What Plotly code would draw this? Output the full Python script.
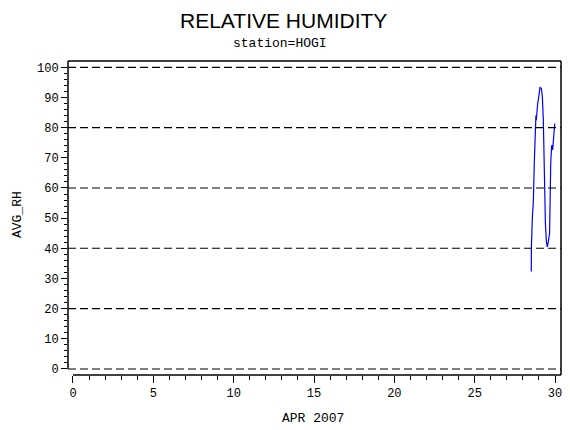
"""
Relative humidity plot for station HOGI, April 2007.
"""
import plotly.graph_objects as go

# day of month (April 2007) and average relative humidity
day = [28.52, 28.53, 28.59, 28.65, 28.71, 28.77, 28.81, 28.83, 28.85, 28.92,
       29.00, 29.06, 29.15, 29.21, 29.27, 29.33, 29.40, 29.46, 29.52, 29.58,
       29.66, 29.73, 29.79, 29.85, 29.92, 29.98]
avg_rh = [32.3, 40.8, 50.5, 55.5, 68.7, 82.0, 84.0, 82.5, 84.5, 88.0,
          90.8, 93.4, 93.0, 90.3, 82.6, 60.4, 48.3, 42.2, 40.5, 42.2,
          45.0, 68.2, 74.2, 72.6, 77.0, 81.4]

x_ticks = [0, 5, 10, 15, 20, 25, 30]
y_ticks = [0, 10, 20, 30, 40, 50, 60, 70, 80, 90, 100]
ref_lines = [0, 20, 40, 60, 80, 100]

TICK_FONT = dict(family="Liberation Mono", size=12, color="black")

fig = go.Figure()
fig.add_trace(go.Scatter(x=day, y=avg_rh, mode="lines",
                         line=dict(color="#0000ff", width=1.2),
                         showlegend=False, hoverinfo="skip"))

# dashed reference lines
for v in ref_lines:
    fig.add_shape(type="line", xref="paper", yref="y", x0=0, x1=1, y0=v, y1=v,
                  line=dict(color="black", width=1.1, dash="8px,4px"))

# frame: left stops at 0, bottom starts at 0 like the SAS output
frame = [
    dict(xref="paper", yref="paper", x0=0, x1=1, y0=1, y1=1),
    dict(xref="paper", yref="paper", x0=1, x1=1, y0=0, y1=1),
    dict(xref="paper", yref="y", x0=0, x1=0, y0=0, y1=102.1),
    dict(xref="x", yref="paper", x0=0, x1=30.37, y0=0, y1=0),
]
for f in frame:
    fig.add_shape(type="line", line=dict(color="black", width=1.5), **f)

fig.update_xaxes(range=[-0.31, 30.37], tickvals=x_ticks, ticks="outside",
                 ticklen=7, tickwidth=1.2, tickcolor="black",
                 minor=dict(tickvals=list(range(0, 31)), ticks="outside",
                            ticklen=4, tickwidth=1, tickcolor="black"),
                 showgrid=False, zeroline=False, showline=False,
                 tickfont=TICK_FONT)
fig.update_yaxes(range=[-2, 102.1], tickvals=y_ticks, ticks="outside",
                 ticklen=6, tickwidth=1.2, tickcolor="black",
                 minor=dict(tickvals=list(range(0, 101, 2)), ticks="outside",
                            ticklen=3, tickwidth=1, tickcolor="black"),
                 showgrid=False, zeroline=False, showline=False,
                 tickfont=TICK_FONT)

notes = [
    dict(text="RELATIVE HUMIDITY", x=0.438, y=1.129,
         font=dict(family="Liberation Sans", size=21, color="black")),
    dict(text="station=HOGI", x=0.430, y=1.057,
         font=dict(family="Liberation Mono", size=13, color="black")),
    dict(text="APR 2007", x=0.497, y=-0.137,
         font=dict(family="Liberation Mono", size=13, color="black")),
    dict(text="AVG_RH", x=-0.101, y=0.51, textangle=-90,
         font=dict(family="Liberation Mono", size=13, color="black")),
]
for n in notes:
    fig.add_annotation(xref="paper", yref="paper", showarrow=False,
                       xanchor="center", yanchor="middle", **n)

# margins allow for the 8px page margin around the plot div
fig.update_layout(width=570, height=430, autosize=False,
                  margin=dict(l=60, r=17, t=53, b=63),
                  plot_bgcolor="white", paper_bgcolor="white")

fig.write_html("out.html")
